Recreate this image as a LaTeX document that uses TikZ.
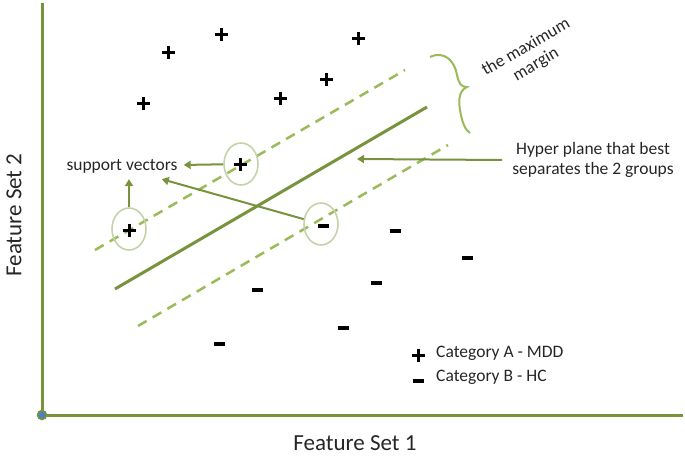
\documentclass[tikz,border=0pt]{standalone}
\usepackage{fontspec}
\setmainfont{Carlito}
\usepackage{tikz}
\usetikzlibrary{arrows.meta,shapes.geometric}
\definecolor{axisgreen}{RGB}{119,147,60}
\definecolor{lightgreen}{RGB}{155,187,89}
\definecolor{ringgray}{RGB}{196,210,170}
\definecolor{origblue}{RGB}{79,129,189}

\begin{document}
\begin{tikzpicture}[x=1pt,y=-1pt,
		lbl/.style={text=black!85,font=\fontsize{17.5}{20}\selectfont,inner sep=0pt},
		axlbl/.style={text=black!85,font=\fontsize{23}{26}\selectfont},
		ring/.style={draw=ringgray,line width=1.6pt,ellipse,minimum width=34pt,minimum height=42pt,inner sep=0pt},
		ptr/.style={draw=axisgreen,line width=2pt,-{Triangle[width=8pt,length=7pt]}},
		plusdot/.pic={\draw[line width=3pt] (-6.5,0) -- (6.5,0) (0,-6.5) -- (0,6.5);},
		minusdot/.pic={\draw[line width=3.5pt] (-5.5,0) -- (5.5,0);}]
			\useasboundingbox (0,0) rectangle (685,457);
			\coordinate (o) at (42,415);
			\coordinate (ytop) at (42,3);
			\coordinate (xend) at (683,415);
			\draw[axisgreen,line width=3pt] (ytop) -- (o) -- (xend);
			\filldraw[fill=origblue,draw=axisgreen,line width=1.5pt] (o) circle (4.5pt);
			\coordinate (h1) at (115,289);
			\coordinate (h2) at (427,107);
			\coordinate (m1) at (95,250);
			\coordinate (m2) at (405,70);
			\coordinate (n1) at (138,326);
			\coordinate (n2) at (448,145);
			\draw[axisgreen,line width=3pt] (h1) -- (h2);
			\draw[lightgreen,line width=2.5pt,dash pattern=on 10pt off 7pt] (m1) -- (m2);
			\draw[lightgreen,line width=2.5pt,dash pattern=on 10pt off 7pt] (n1) -- (n2);
			\foreach \p in {(168,53),(221,35),(143,104),(280,99),(326,80),(358,39),(240,165),(129,230)}
				\pic at \p {plusdot};
			\foreach \p in {(323,226),(395,231),(467,258),(257,290),(376,283),(343,328),(219,344)}
				\pic at \p {minusdot};
			\node[ring] (sva) at (241,164) {};
			\node[ring] (svb) at (129,229) {};
			\node[ring] (svc) at (321,224) {};
			\node[lbl,inner sep=6pt] (sv) at (122,166) {support vectors};
			\draw[ptr] (sva) -- (sv);
			\draw[ptr] (svb) -- (svb |- sv.south);
			\draw[ptr] (svc) -- ([xshift=-22pt]sv.south east);
			\node[lbl,align=center,inner sep=10pt] (hyp) at (593,160) {Hyper plane that best\\separates the 2 groups};
			\coordinate (hp) at (357,159);
			\draw[ptr] (hyp.west) -- (hp);
			\draw[lightgreen,line width=2pt] (430,57) .. controls (445,50) and (455,62) .. (457,75) .. controls (459,84) and (461,87) .. (467,87) .. controls (460,90) and (458,98) .. (460,110) .. controls (462,122) and (465,130) .. (470,133);
			\node[lbl,rotate=30,align=center] (mm) at (531,56) {the maximum\\margin};
			\pic at (418,355) {plusdot};
			\pic at (418,381) {minusdot};
			\node[lbl,anchor=west] (cata) at (436,353) {Category A - MDD};
			\node[lbl,anchor=west] (catb) at (436,377) {Category B - HC};
			\node[axlbl] (fx) at (355,443) {Feature Set 1};
			\node[axlbl,rotate=90] (fy) at (14,215) {Feature Set 2};
		\end{tikzpicture}
\end{document}
